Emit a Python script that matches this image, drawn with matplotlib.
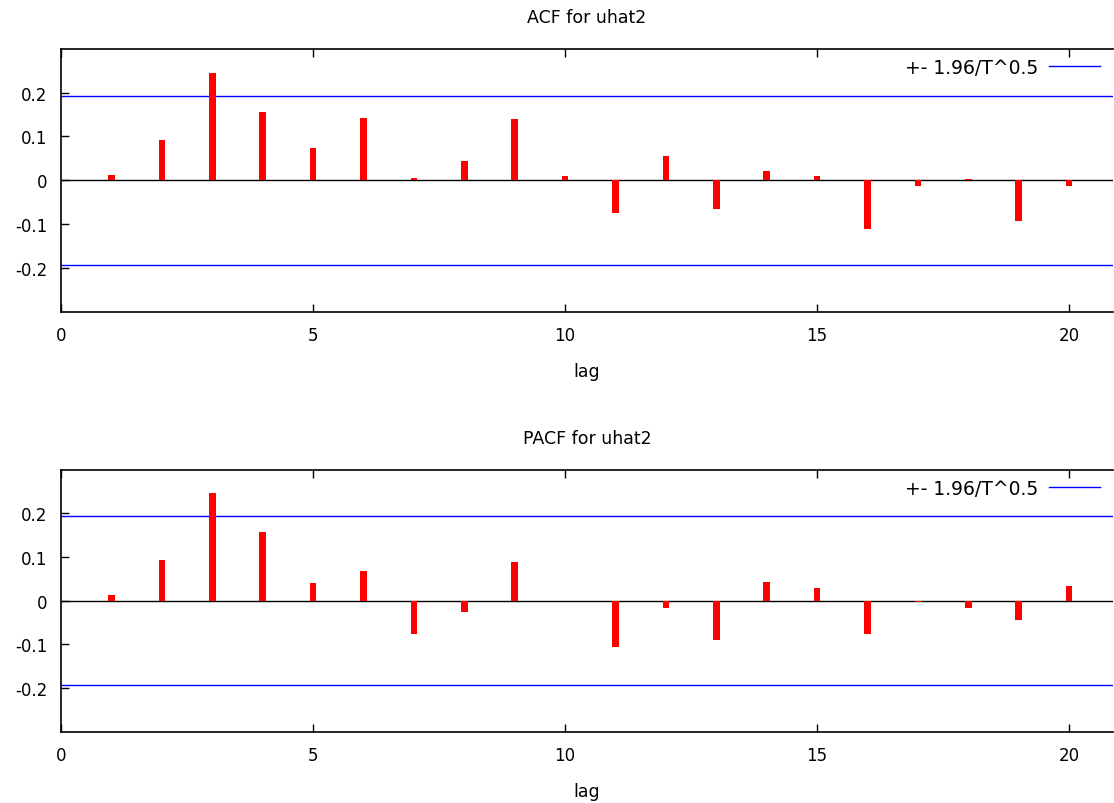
import matplotlib
matplotlib.use('Agg')
import matplotlib.pyplot as plt
import numpy as np

lags = np.arange(1, 21)

acf = [0.013, 0.093, 0.246, 0.156, 0.073, 0.142, 0.005, 0.045, 0.141, 0.010,
       -0.075, 0.055, -0.065, 0.022, 0.010, -0.110, -0.013, 0.002, -0.094, -0.012]
pacf = [0.014, 0.093, 0.246, 0.158, 0.041, 0.067, -0.076, -0.025, 0.088, -0.001,
        -0.106, -0.016, -0.090, 0.044, 0.028, -0.076, -0.003, -0.017, -0.045, 0.033]

band = 0.193  # 1.96/T^0.5
band_label = '+- 1.96/T^0.5'

plt.rcParams['font.family'] = 'DejaVu Sans'

fig = plt.figure(figsize=(11.14, 8.04), dpi=100)

panels = [
    (acf, 'ACF for uhat2', [0.0548, 0.611, 0.9443, 0.327]),
    (pacf, 'PACF for uhat2', [0.0548, 0.0887, 0.9443, 0.3258]),
]

for vals, title, rect in panels:
    ax = fig.add_axes(rect)
    ax.bar(lags, vals, width=0.13, color='#ff0000', zorder=3)
    ax.axhline(0, color='black', lw=1.0, zorder=2)
    ax.axhline(band, color='#0000ff', lw=1.0, label=band_label, zorder=2)
    ax.axhline(-band, color='#0000ff', lw=1.0, zorder=2)
    ax.set_xlim(0, 20.87)
    ax.set_ylim(-0.3, 0.3)
    ax.set_xticks([0, 5, 10, 15, 20])
    ax.set_yticks([-0.2, -0.1, 0, 0.1, 0.2])
    ax.set_yticklabels(['-0.2', '-0.1', '0', '0.1', '0.2'])
    ax.tick_params(direction='in', length=6, width=1, top=True, right=False,
                   labelsize=12, pad=10)
    for s in ax.spines.values():
        s.set_linewidth(1.2)
    ax.spines['right'].set_visible(False)
    ax.set_title(title, fontsize=12.5, pad=19)
    ax.set_xlabel('lag', fontsize=12.5, labelpad=13)
    ax.legend(loc='upper right', frameon=False, markerfirst=False,
              handlelength=2.7, handletextpad=0.6, fontsize=13.5,
              borderaxespad=0.3, bbox_to_anchor=(1.0, 1.015))

fig.savefig('out.png', dpi=100)
